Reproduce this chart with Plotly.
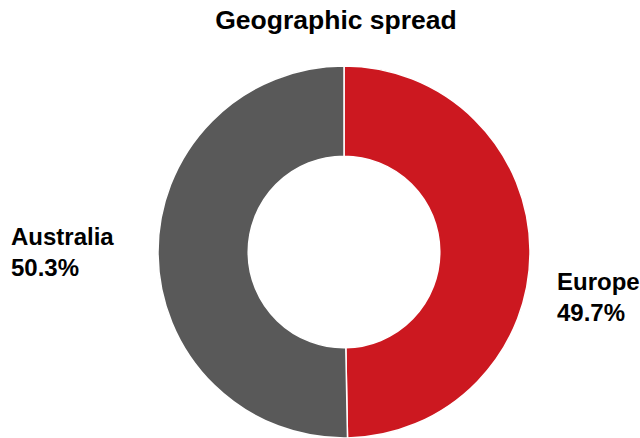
import plotly.graph_objects as go

labels = ["Europe", "Australia"]
values = [49.7, 50.3]
colors = ["#CC1820", "#595959"]
title = "Geographic spread"

# label placement (paper coords) per category
label_pos = {"Europe": (0.867, 0.379, "left"), "Australia": (0.0140, 0.50, "left")}

total = sum(values)
fig = go.Figure(go.Pie(
    labels=labels, values=values, sort=False, direction="clockwise", rotation=0,
    hole=0.515, marker=dict(colors=colors, line=dict(color="white", width=1.5)),
    textinfo="none", hoverinfo="label+percent", showlegend=False,
    domain=dict(x=[0.075, 1], y=[0, 1]),
))

annotations = []
for lab, v in zip(labels, values):
    x, y, xa = label_pos[lab]
    annotations.append(dict(
        x=x, y=y, xref="paper", yref="paper", xanchor=xa, yanchor="middle",
        text=f"<b>{lab}</b><br><b>{v / total * 100:.1f}%</b>", showarrow=False, align="left",
        font=dict(family="Liberation Sans, Arial, sans-serif", size=24, color="#000000"),
    ))

fig.update_layout(
    width=640, height=438,
    margin=dict(l=0, r=0, t=66, b=0),
    paper_bgcolor="white", plot_bgcolor="white",
    title=dict(text=f"<b>{title}</b>", x=0.525, xanchor="center", y=0.954, yanchor="middle",
               font=dict(family="Liberation Sans, Arial, sans-serif", size=26.5, color="#000000")),
    annotations=annotations,
)

fig.write_html("out.html")
